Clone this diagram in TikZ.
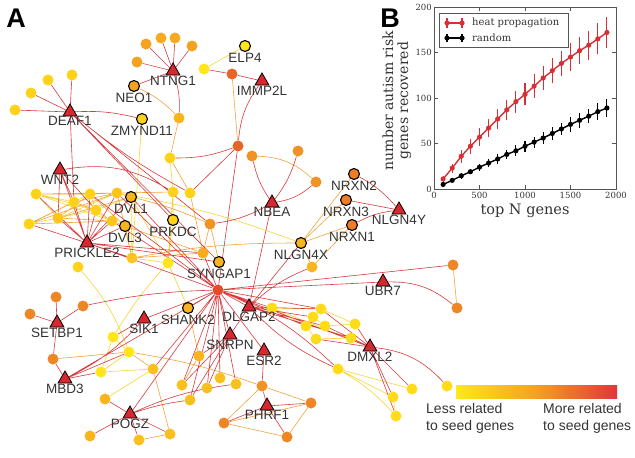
\documentclass[tikz,border=0pt]{standalone}
\usepackage{fontspec}
\setmainfont{Liberation Sans}
\newfontfamily\plotfont{DejaVu Serif}
\usepackage{tikz}
\usetikzlibrary{shapes.geometric, positioning, backgrounds}
\usepackage{xcolor}

\definecolor{seedRed}{HTML}{D8282F}
\definecolor{hubRed}{HTML}{E84B2A}
\definecolor{colRedOr}{HTML}{E8652A}
\definecolor{colDarkOr}{HTML}{EE7D26}
\definecolor{colOr3}{HTML}{EE8626}
\definecolor{colOr2}{HTML}{F09224}
\definecolor{colOr1}{HTML}{F4A21F}
\definecolor{colAmberD}{HTML}{F6AA1E}
\definecolor{colAmber}{HTML}{F8B51E}
\definecolor{colAmberL}{HTML}{FBBF1E}
\definecolor{colGoldD}{HTML}{FCC41C}
\definecolor{colGold}{HTML}{FFD21A}
\definecolor{colYel}{HTML}{FFDB1A}
\definecolor{colLemon}{HTML}{FFE51A}
\definecolor{edgeRed}{HTML}{DA3A3E}
\definecolor{edgeOr}{HTML}{F3A23A}
\definecolor{edgeYe}{HTML}{F8D432}
\definecolor{labelGray}{HTML}{333333}
\definecolor{plotRed}{HTML}{D62F35}
\definecolor{frameGray}{HTML}{555555}
\definecolor{cbYellow}{HTML}{FFE81A}
\definecolor{cbOrange}{HTML}{F4A020}
\definecolor{cbRed}{HTML}{E3343A}

\begin{document}
\begin{tikzpicture}[
  x=1pt, y=-1pt,
  gene/.style={circle, inner sep=0pt, minimum size=11pt},
  known/.style={gene, draw=black, line width=1.1pt, minimum size=11pt},
  seed/.style={regular polygon, regular polygon sides=3, inner sep=0pt,
               minimum size=16pt, fill=seedRed, draw=black, line width=0.8pt},
  glab/.style={font=\fontsize{13.5}{15}\selectfont, text=labelGray, inner sep=0pt},
  re/.style={draw=edgeRed, line width=0.6pt},
  oe/.style={draw=edgeOr, line width=0.6pt},
  ye/.style={draw=edgeYe, line width=0.6pt},
  tick/.style={font=\plotfont\fontsize{8.5}{10}\selectfont, text=labelGray, inner sep=0pt},
  cbtext/.style={font=\fontsize{14}{17}\selectfont, text=labelGray, align=left, inner sep=0pt}
]
  \useasboundingbox (0,0) rectangle (635,458);

  % panel A: seed genes
  \node[seed] (ntng) at (173,71) {};
  \node[seed] (immp) at (262,81) {};
  \node[seed] (deaf) at (70,112) {};
  \node[seed] (wnt) at (60,170) {};
  \node[seed] (prickle) at (87,243) {};
  \node[seed] (nbea) at (272,203) {};
  \node[seed] (nlgny) at (399,210) {};
  \node[seed] (ubr) at (383,282) {};
  \node[seed] (dlgap) at (249,307) {};
  \node[seed] (setbp) at (57,323) {};
  \node[seed] (sik) at (144,319) {};
  \node[seed] (snrpn) at (230,335) {};
  \node[seed] (esr) at (264,351) {};
  \node[seed] (dmxl) at (370,347) {};
  \node[seed] (mbd) at (65,379) {};
  \node[seed] (pogz) at (130,414) {};
  \node[seed] (phrf) at (267,406) {};

  % known risk genes
  \node[known, fill=colOr1] (neo) at (134,86) {};
  \node[known, fill=colLemon] (elp) at (245,46) {};
  \node[known, fill=colGold] (zmynd) at (142,119) {};
  \node[known, fill=colAmber] (dvl1) at (131,197) {};
  \node[known, fill=colAmber] (dvl3) at (125,226) {};
  \node[known, fill=colGold] (prkdc) at (173,220) {};
  \node[known, fill=colAmber] (syngap) at (219,262) {};
  \node[known, fill=colAmber] (nlgnx) at (301,243) {};
  \node[known, fill=colDarkOr] (nrxn2) at (354,174) {};
  \node[known, fill=colDarkOr] (nrxn3) at (346,200) {};
  \node[known, fill=colDarkOr] (nrxn1) at (352,225) {};
  \node[known, fill=colAmber] (shank) at (188,308) {};

  % other genes
  \node[gene, fill=hubRed] (hub) at (218,290) {};
  \node[gene, fill=colOr1] (a1) at (146,44) {};
  \node[gene, fill=colAmberD] (a2) at (161,38) {};
  \node[gene, fill=colAmberD] (a3) at (175,38) {};
  \node[gene, fill=colOr1] (a4) at (192,46) {};
  \node[gene, fill=colOr1] (a5) at (137,62) {};
  \node[gene, fill=colLemon] (e1) at (204,69) {};
  \node[gene, fill=colRedOr] (e2) at (232,74) {};
  \node[gene, fill=colGold] (d1) at (48,80) {};
  \node[gene, fill=colGold] (d2) at (72,75) {};
  \node[gene, fill=colGold] (d3) at (31,93) {};
  \node[gene, fill=colGold] (d4) at (15,110) {};
  \node[gene, fill=colAmber] (o1) at (179,118) {};
  \node[gene, fill=colGold] (c1) at (170,158) {};
  \node[gene, fill=colRedOr] (r1) at (238,146) {};
  \node[gene, fill=colOr2] (o2) at (252,156) {};
  \node[gene, fill=colOr2] (o3) at (298,151) {};
  \node[gene, fill=colOr2] (o4) at (316,182) {};
  \node[gene, fill=colGold] (c2) at (173,192) {};
  \node[gene, fill=colGold] (c3) at (190,193) {};
  \node[gene, fill=colOr2] (o5) at (210,224) {};
  \node[gene, fill=colAmberD] (o6) at (203,253) {};
  \node[gene, fill=colLemon] (y1) at (168,263) {};
  \node[gene, fill=colAmber] (o7) at (312,267) {};
  \node[gene, fill=colOr3] (o8) at (453,265) {};
  \node[gene, fill=colOr3] (o9) at (457,308) {};
  \node[gene, fill=colYel] (y2) at (272,308) {};
  \node[gene, fill=colYel] (w1) at (321,309) {};
  \node[gene, fill=colYel] (w2) at (313,317) {};
  \node[gene, fill=colYel] (w3) at (306,326) {};
  \node[gene, fill=colYel] (w4) at (325,326) {};
  \node[gene, fill=colYel] (w5) at (316,339) {};
  \node[gene, fill=colYel] (w6) at (355,324) {};
  \node[gene, fill=colYel] (w7) at (351,338) {};
  \node[gene, fill=colYel] (z0) at (338,369) {};
  \node[gene, fill=colYel] (z1) at (393,397) {};
  \node[gene, fill=colYel] (z2) at (412,389) {};
  \node[gene, fill=colYel] (z3) at (396,416) {};
  \node[gene, fill=colYel] (z4) at (447,386) {};
  \node[gene, fill=colOr2] (h0) at (262,386) {};
  \node[gene, fill=colOr3] (h1) at (311,403) {};
  \node[gene, fill=colOr3] (h2) at (224,423) {};
  \node[gene, fill=colOr3] (h3) at (287,437) {};
  \node[gene, fill=colAmber] (q1) at (199,356) {};
  \node[gene, fill=colAmberL] (q2) at (182,385) {};
  \node[gene, fill=colAmberL] (q3) at (190,400) {};
  \node[gene, fill=colAmberL] (q4) at (207,388) {};
  \node[gene, fill=colAmberL] (q5) at (220,378) {};
  \node[gene, fill=colAmberL] (q6) at (236,384) {};
  \node[gene, fill=colAmber] (p1) at (105,399) {};
  \node[gene, fill=colAmber] (p2) at (90,436) {};
  \node[gene, fill=colAmberL] (p3) at (139,440) {};
  \node[gene, fill=colAmberL] (p4) at (170,434) {};
  \node[gene, fill=colOr3] (s1) at (56,297) {};
  \node[gene, fill=colOr3] (s2) at (30,314) {};
  \node[gene, fill=colOr3] (s3) at (83,306) {};
  \node[gene, fill=colOr3] (s4) at (53,359) {};
  \node[gene, fill=colLemon] (y3) at (113,337) {};
  \node[gene, fill=colLemon] (y4) at (129,352) {};
  \node[gene, fill=colLemon] (y5) at (101,372) {};
  \node[gene, fill=colAmberL] (y6) at (153,369) {};
  \node[gene, fill=colGold] (y7) at (78,267) {};
  \node[gene, fill=colGold] (k1) at (36,194) {};
  \node[gene, fill=colGold] (k2) at (74,202) {};
  \node[gene, fill=colGold] (k3) at (90,194) {};
  \node[gene, fill=colGoldD] (k4) at (117,193) {};
  \node[gene, fill=colGold] (k5) at (96,210) {};
  \node[gene, fill=colGoldD] (k6) at (58,218) {};
  \node[gene, fill=colGold] (k7) at (29,224) {};
  \node[gene, fill=colGoldD] (k8) at (112,221) {};
  \node[gene, fill=colGoldD] (k9) at (132,258) {};

  % gene labels
  \node[glab, below=0pt of ntng] (ntngL) {NTNG1};
  \node[glab, below=0pt of immp] (immpL) {IMMP2L};
  \node[glab, below=0pt of deaf] (deafL) {DEAF1};
  \node[glab, below=0pt of wnt] (wntL) {WNT2};
  \node[glab, below=0pt of prickle] (prickleL) {PRICKLE2};
  \node[glab, below=0pt of nbea] (nbeaL) {NBEA};
  \node[glab, below=0pt of nlgny] (nlgnyL) {NLGN4Y};
  \node[glab, below=0pt of ubr] (ubrL) {UBR7};
  \node[glab, below=0pt of dlgap] (dlgapL) {DLGAP2};
  \node[glab, below=0pt of setbp] (setbpL) {SETBP1};
  \node[glab, below=0pt of sik] (sikL) {SIK1};
  \node[glab, below=0pt of snrpn] (snrpnL) {SNRPN};
  \node[glab, below=0pt of esr] (esrL) {ESR2};
  \node[glab, below=0pt of dmxl] (dmxlL) {DMXL2};
  \node[glab, below=0pt of mbd] (mbdL) {MBD3};
  \node[glab, below=0pt of pogz] (pogzL) {POGZ};
  \node[glab, below=0pt of phrf] (phrfL) {PHRF1};
  \node[glab, below=0.5pt of neo] (neoL) {NEO1};
  \node[glab, below=0.5pt of elp] (elpL) {ELP4};
  \node[glab, below=0.5pt of zmynd] (zmyndL) {ZMYND11};
  \node[glab, below=0.5pt of dvl1] (dvl1L) {DVL1};
  \node[glab, below=0.5pt of dvl3] (dvl3L) {DVL3};
  \node[glab, below=0.5pt of prkdc] (prkdcL) {PRKDC};
  \node[glab, below=0.5pt of syngap] (syngapL) {SYNGAP1};
  \node[glab, below=0.5pt of nlgnx] (nlgnxL) {NLGN4X};
  \node[glab, below=0.5pt of nrxn2] (nrxn2L) {NRXN2};
  \node[glab, below=0.5pt of nrxn3] (nrxn3L) {NRXN3};
  \node[glab, below=0.5pt of nrxn1] (nrxn1L) {NRXN1};
  \node[glab, below=0.5pt of shank] (shankL) {SHANK2};

  \node[font=\fontsize{27}{30}\selectfont\bfseries, inner sep=0pt] (panA) at (16,18) {A};
  \node[font=\fontsize{27}{30}\selectfont\bfseries, inner sep=0pt] (panB) at (390,18) {B};

  % interactions
  \begin{scope}[on background layer]
    \draw[ye] (elp) -- (e1) (c1) -- (c2) (c2) -- (y1) (y1) to[bend right=5] (y3)
      (y7) to[bend left=10] (y4) (y3) -- (y4) (y3) -- (y5) (y4) -- (y5) (y5) -- (y6)
      (z0) -- (z1) (z0) -- (z2) (z0) to[bend left=8] (z3) (z1) -- (z3)
      (w1) -- (w6) (w2) -- (w4) (w3) -- (w5) (w4) -- (w6) (w5) -- (w7) (w1) -- (w3)
      (y2) -- (w1) (y2) -- (w3) (zmynd) -- (k9) (prkdc) -- (c2) (prkdc) -- (y1)
      (dvl1) -- (k9) (dvl3) -- (k9) (k1) -- (k2) (k7) -- (k5) (k2) -- (k3)
      (k3) -- (k5) (k6) -- (k4) (k2) -- (k8) (k5) -- (dvl1) (k6) -- (k7) (k1) -- (k6)
      (k9) -- (y1) (y6) -- (p1) (shank) -- (y1) (y2) -- (dmxl)
      (k1) -- (k5) (k7) -- (k3) (k1) -- (k8) (dvl1) -- (y1) (k4) to[bend left=5] (nlgnx);
    \draw[oe] (neo) to[bend left=10] (o1) (o1) -- (c1) (e2) -- (r1) (o2) to[bend left=20] (o4)
      (nlgnx) -- (nrxn2) (nlgnx) -- (nrxn3) (nlgnx) -- (nrxn1) (nlgnx) -- (o7) (o7) -- (nrxn1)
      (o5) -- (o6) (o5) -- (syngap) (c3) -- (o6) (c1) -- (c3) (o8) -- (o9) (s4) -- (y4)
      (h0) -- (h1) (h0) -- (h2) (h2) -- (h3) (h1) -- (h3) (h2) -- (h1) (p3) -- (p4)
      (y4) -- (y6) (y4) to[bend left=5] (h0) (q1) -- (q2) (nlgnx) to[bend right=5] (k9)
      (dvl1) to[bend left=5] (o5) (dvl3) -- (o6) (k4) -- (c2) (k9) -- (o6)
      (k1) -- (k3) (k1) -- (k4) (k7) -- (k2) (k7) -- (k8) (k2) -- (k4) (k3) -- (k4)
      (k5) -- (k8) (k6) -- (k3) (k6) -- (k8) (k4) -- (dvl1) (k8) -- (dvl3) (k3) -- (dvl3)
      (k4) -- (k9) (y6) -- (p4) (q1) -- (shank) (k2) -- (k5) (k6) -- (dvl1) (k7) -- (k4);
    \draw[re] (ntng) -- (a1) (ntng) -- (a2) (ntng) -- (a3) (ntng) -- (a4) (ntng) -- (a5)
      (ntng) -- (neo) (ntng) to[bend left=10] (o1)
      (e1) -- (e2) (e2) -- (immp) (immp) to[bend right=15] (r1)
      (deaf) -- (d1) (deaf) -- (d2) (deaf) -- (d3) (deaf) -- (d4)
      (deaf) to[bend left=8] (zmynd) (deaf) -- (k2) (deaf) to[bend right=5] (c3)
      (deaf) -- (o5) (deaf) -- (syngap) (deaf) -- (prkdc)
      (c1) to[bend right=10] (r1) (r1) -- (c3) (r1) -- (hub)
      (wnt) to[bend left=20] (c2) (wnt) -- (k6) (wnt) -- (k5) (wnt) -- (prickle) (wnt) -- (k2)
      (prickle) -- (k1) (prickle) -- (k2) (prickle) -- (k3) (prickle) -- (k4)
      (prickle) -- (k5) (prickle) -- (k6) (prickle) -- (k7) (prickle) -- (k8)
      (prickle) -- (dvl1) (prickle) -- (dvl3) (prickle) -- (k9)
      (prickle) -- (hub) (prickle) -- (syngap) (prickle) -- (o6)
      (k3) -- (hub) (k4) -- (hub) (k8) -- (hub) (dvl1) -- (hub)
      (nbea) to[bend left=10] (o2) (nbea) to[bend right=10] (o3) (nbea) to[bend right=15] (o4)
      (nbea) to[bend left=10] (o5) (nbea) -- (dlgap)
      (nrxn2) to[bend left=10] (nlgny) (nrxn3) -- (nlgny) (nrxn1) to[bend left=10] (nlgny)
      (o7) to[bend right=10] (dlgap) (nlgnx) -- (dlgap)
      (hub) -- (sik) (hub) to[bend right=5] (s3) (hub) -- (mbd) (hub) -- (pogz)
      (hub) -- (snrpn) (hub) -- (esr) (hub) -- (dmxl) (hub) -- (o8) (hub) -- (ubr)
      (hub) -- (q2) (hub) -- (q3) (hub) -- (q4) (hub) -- (q5) (hub) -- (q6)
      (hub) -- (y2) (hub) -- (dlgap) (hub) -- (o6) (hub) to[bend left=10] (z0)
      (hub) -- (y6) (hub) -- (shank) (hub) -- (w1) (hub) -- (w3)
      (setbp) -- (s1) (setbp) -- (s2) (setbp) -- (s3) (setbp) -- (s4) (s4) -- (mbd)
      (mbd) -- (y5) (mbd) to[bend right=10] (sik) (mbd) -- (y4) (sik) -- (y3)
      (pogz) -- (p1) (pogz) -- (p2) (pogz) -- (p3) (pogz) -- (p4)
      (pogz) to[bend left=5] (q3) (pogz) to[bend left=8] (q6)
      (snrpn) -- (q1) (snrpn) -- (q2) (snrpn) -- (q3) (snrpn) -- (q4) (snrpn) -- (dlgap)
      (esr) -- (h0) (phrf) -- (h0) (phrf) -- (h1) (phrf) -- (h2) (phrf) -- (h3)
      (ubr) to[bend left=20] (o9)
      (dmxl) -- (w1) (dmxl) -- (w4) (dmxl) -- (w5) (dmxl) -- (w6) (dmxl) -- (w7)
      (dmxl) -- (z1) (dmxl) -- (z2) (dmxl) -- (z3) (dmxl) to[bend left=20] (z4)
      (dlgap) -- (w1) (dlgap) -- (w2) (dlgap) -- (w4) (dlgap) -- (w7)
      (dlgap) to[bend right=10] (z0);
  \end{scope}

  % colour scale
  \node[minimum width=161pt, minimum height=13pt, inner sep=0pt, anchor=north west,
        left color=cbYellow, right color=cbRed, middle color=cbOrange] (cbar) at (456,385) {};
  \node[cbtext, anchor=north west] (less) at (426,403) {Less related\\to seed genes};
  \node[cbtext, anchor=north west] (more) at (543,403) {More related\\to seed genes};

  % panel B
  \begin{scope}[shift={(434,189)}, x=0.091pt, y=0.91pt]
    \draw[frameGray, line width=0.7pt] (0,0) rectangle (2000,200);
    \foreach \t in {0,500,...,2000} {
      \draw[frameGray, line width=0.6pt] (\t,0) -- (\t,4) (\t,200) -- (\t,196);
      \node[tick, anchor=north] (xt\t) at ([yshift=-3pt]\t,0) {\t};
    }
    \foreach \v in {0,50,...,200} {
      \draw[frameGray, line width=0.6pt] (0,\v) -- (40,\v) (2000,\v) -- (1960,\v);
      \node[tick, anchor=east] (yt\v) at ([xshift=-2pt]0,\v) {\v};
    }
    \draw[black, line width=1.4pt] plot coordinates {(100,5) (200,9.5) (300,14.5) (400,19)
      (500,24) (600,28.5) (700,33) (800,38) (900,42) (1000,47) (1100,51.5) (1200,56)
      (1300,61) (1400,66) (1500,71) (1600,75.5) (1700,80) (1800,85) (1900,89)};
    \foreach \n/\m/\e in {100/5/1.5, 200/9.5/2, 300/14.5/3, 400/19/3, 500/24/4, 600/28.5/4,
      700/33/5, 800/38/5, 900/42/6, 1000/47/6, 1100/51.5/6, 1200/56/7, 1300/61/7, 1400/66/7,
      1500/71/8, 1600/75.5/8, 1700/80/8, 1800/85/9, 1900/89/9.5} {
      \draw[black, line width=1.1pt] (\n,\m-\e) -- (\n,\m+\e);
      \fill[black] (\n,\m) circle (2.6pt);
    }
    \draw[plotRed, line width=1.4pt] plot coordinates {(100,11) (200,23) (300,36) (400,47)
      (500,57) (600,67) (700,77) (800,87) (900,96) (1000,104) (1100,113) (1200,122)
      (1300,130) (1400,138) (1500,145) (1600,152) (1700,158) (1800,165) (1900,172)};
    \foreach \n/\m/\e in {100/11/3, 200/23/5, 300/36/7, 400/47/8, 500/57/10, 600/67/10,
      700/77/11, 800/87/11, 900/96/12, 1000/104/12, 1100/113/13, 1200/122/13, 1300/130/14,
      1400/138/14, 1500/145/15, 1600/152/15, 1700/158/16, 1800/165/17, 1900/172/17} {
      \draw[plotRed, line width=1.1pt] (\n,\m-\e) -- (\n,\m+\e);
      \fill[plotRed] (\n,\m) circle (2.6pt);
    }
    \node[font=\plotfont\fontsize{14.5}{16}\selectfont, text=labelGray] (xlab) at (1000,-24) {top N genes};
    \node[font=\plotfont\fontsize{14}{15}\selectfont, text=labelGray, rotate=90, align=center]
      (ylab) at (-407,97) {number autism risk\\genes recovered};
  \end{scope}

  % legend
  \node[draw=frameGray, line width=0.7pt, minimum width=129pt, minimum height=34pt,
        inner sep=0pt, anchor=north west] (legend) at (439,13) {};
  \draw[plotRed, line width=1.4pt] (447,23) -- (462,23);
  \draw[plotRed, line width=1.1pt] (447,18) -- (447,28) (462,18) -- (462,28);
  \fill[plotRed] (447,23) circle (2.6pt) (462,23) circle (2.6pt);
  \draw[black, line width=1.4pt] (447,38) -- (462,38);
  \draw[black, line width=1.1pt] (447,34) -- (447,42) (462,34) -- (462,42);
  \fill[black] (447,38) circle (2.6pt) (462,38) circle (2.6pt);
  \node[font=\plotfont\fontsize{10}{12}\selectfont, text=labelGray, anchor=west, inner sep=0pt]
    (lheat) at (472,23) {heat propagation};
  \node[font=\plotfont\fontsize{10}{12}\selectfont, text=labelGray, anchor=west, inner sep=0pt]
    (lrand) at (472,38) {random};
\end{tikzpicture}
\end{document}
